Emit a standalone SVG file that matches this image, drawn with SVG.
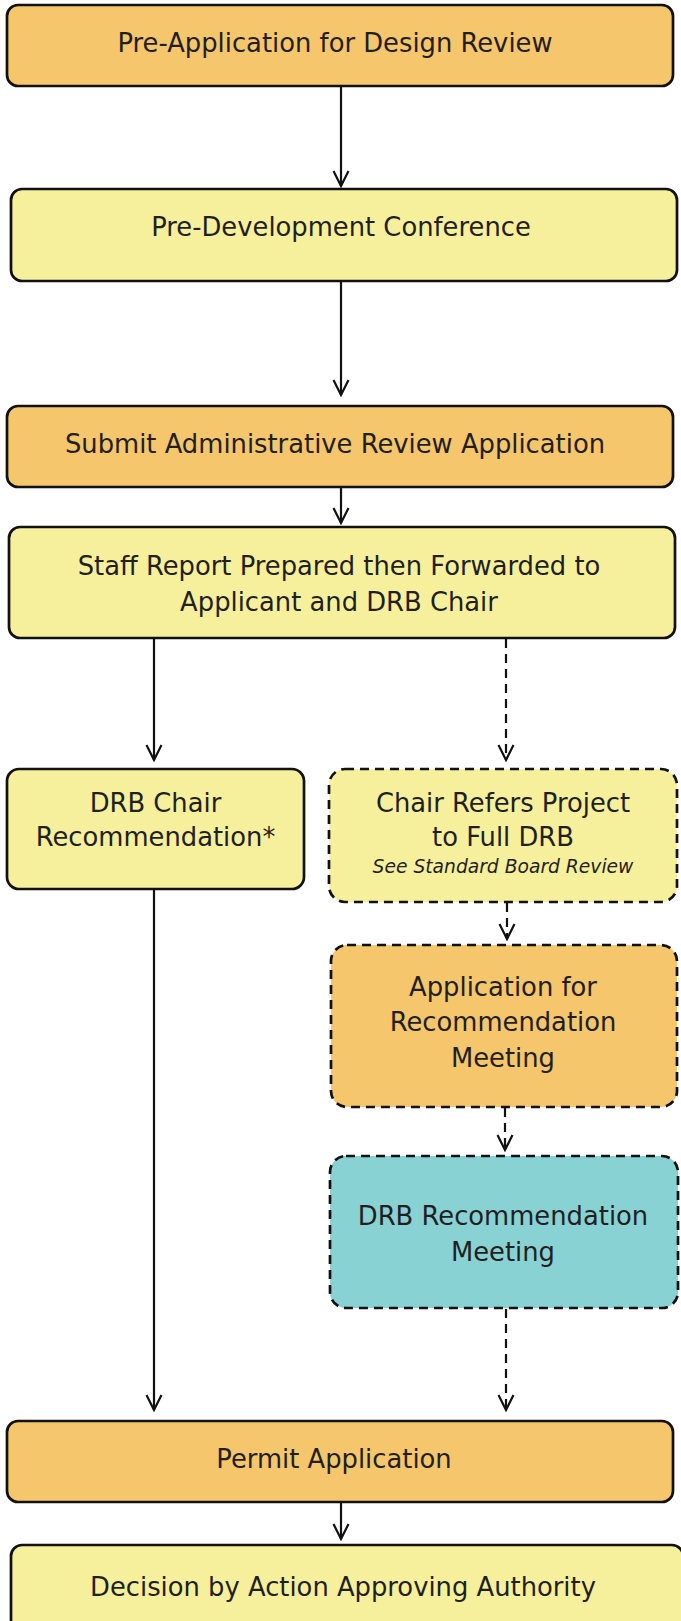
<svg xmlns="http://www.w3.org/2000/svg" width="681" height="1621" viewBox="0 0 681 1621">
<defs>
<style>
.box{stroke:#111;stroke-width:2.7}
.dash{stroke-dasharray:9 6}
.or{fill:#F5C66B}
.ye{fill:#F6F09C}
.te{fill:#88D2D4}
.t{font-family:"DejaVu Sans",Verdana,sans-serif;font-size:25.8px;fill:#231F20;text-anchor:middle}
.it{font-family:"DejaVu Sans",Verdana,sans-serif;font-size:18.7px;font-style:italic;fill:#231F20;text-anchor:middle}
.c{stroke:#111;stroke-width:2.2;fill:none}
.cd{stroke-dasharray:9 6}
</style>
<marker id="ah" viewBox="-17 -9 19 18" refX="0" refY="0" markerWidth="19" markerHeight="18" orient="auto" markerUnits="userSpaceOnUse">
<path d="M-15,-7.5 L0,0 L-15,7.5" fill="none" stroke="#111" stroke-width="2.2" stroke-dasharray="none"/>
</marker>
</defs>
<g id="connectors">
<line class="c" x1="341" y1="87" x2="341" y2="186" marker-end="url(#ah)"/>
<line class="c" x1="341" y1="282" x2="341" y2="395" marker-end="url(#ah)"/>
<line class="c" x1="341" y1="488" x2="341" y2="523" marker-end="url(#ah)"/>
<line class="c" x1="154" y1="639" x2="154" y2="760" marker-end="url(#ah)"/>
<line class="c cd" x1="506" y1="639" x2="506" y2="760" marker-end="url(#ah)"/>
<line class="c cd" x1="507" y1="903" x2="507" y2="939" marker-end="url(#ah)"/>
<line class="c cd" x1="505" y1="1108" x2="505" y2="1150" marker-end="url(#ah)"/>
<line class="c cd" x1="506" y1="1309" x2="506" y2="1410" marker-end="url(#ah)"/>
<line class="c" x1="154" y1="890" x2="154" y2="1410" marker-end="url(#ah)"/>
<line class="c" x1="341" y1="1503" x2="341" y2="1539" marker-end="url(#ah)"/>
</g>
<g id="n1"><rect class="box or" x="7" y="5" width="666" height="81" rx="11"/><text class="t" x="335" y="52">Pre-Application for Design Review</text></g>
<g id="n2"><rect class="box ye" x="11" y="189" width="666" height="92" rx="11"/><text class="t" x="341" y="236">Pre-Development Conference</text></g>
<g id="n3"><rect class="box or" x="7" y="406" width="666" height="81" rx="11"/><text class="t" x="335" y="453">Submit Administrative Review Application</text></g>
<g id="n4"><rect class="box ye" x="9" y="527" width="666" height="111" rx="11"/><text class="t" x="339" y="575">Staff Report Prepared then Forwarded to</text><text class="t" x="339" y="611">Applicant and DRB Chair</text></g>
<g id="n5"><rect class="box ye" x="7" y="769" width="297" height="120" rx="12"/><text class="t" x="155.5" y="812">DRB Chair</text><text class="t" x="155.5" y="846">Recommendation*</text></g>
<g id="n6"><rect class="box ye dash" x="329" y="769" width="348" height="133" rx="16"/><text class="t" x="503" y="812">Chair Refers Project</text><text class="t" x="503" y="846">to Full DRB</text><text class="it" x="503" y="873">See Standard Board Review</text></g>
<g id="n7"><rect class="box or dash" x="331" y="945" width="346" height="162" rx="16"/><text class="t" x="503" y="996">Application for</text><text class="t" x="503" y="1031">Recommendation</text><text class="t" x="503" y="1067">Meeting</text></g>
<g id="n8"><rect class="box te dash" x="330" y="1156" width="348" height="152" rx="16"/><text class="t" x="503" y="1225">DRB Recommendation</text><text class="t" x="503" y="1261">Meeting</text></g>
<g id="n9"><rect class="box or" x="7" y="1421" width="666" height="81" rx="11"/><text class="t" x="334" y="1468">Permit Application</text></g>
<g id="n10"><rect class="box ye" x="11" y="1545" width="672" height="90" rx="11"/><text class="t" x="343" y="1596">Decision by Action Approving Authority</text></g>
</svg>
